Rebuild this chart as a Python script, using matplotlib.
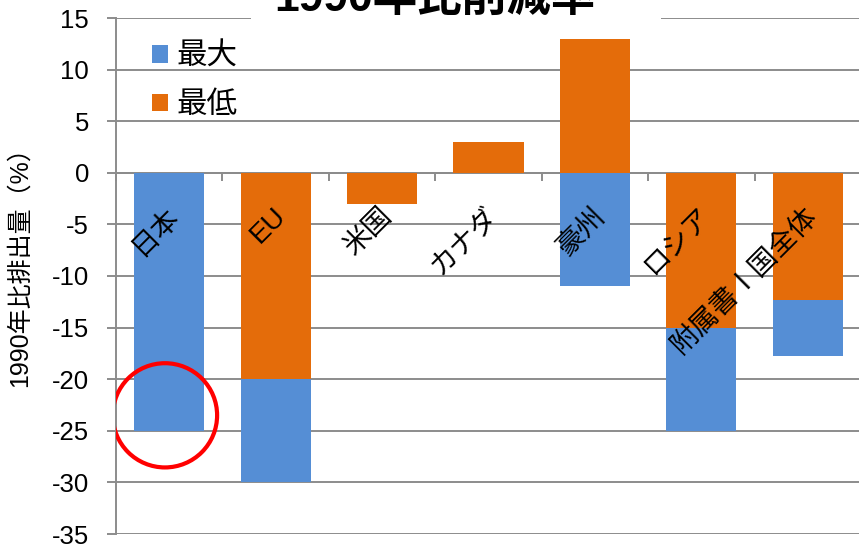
import numpy as np
import matplotlib
matplotlib.use('Agg')
import matplotlib.pyplot as plt
from matplotlib.patches import Ellipse, Rectangle

plt.rcParams['font.family'] = ['Liberation Sans', 'Noto Sans CJK JP']

# データ
countries = ['日本', 'EU', '米国', 'カナダ', '豪州', 'ロシア', '附属書Ⅰ国全体']
low = [0, -20, -3, 3, 13, -15, -12.3]      # 最低
extra = [-25, -10, 0, 0, -11, -10, -5.5]   # 最大 (最低からの上乗せ分)
yticks = [15, 10, 5, 0, -5, -10, -15, -20, -25, -30, -35]

blue = '#558ED5'
orange = '#E46C0A'
grid_c = '#8c8c8c'

fig = plt.figure(figsize=(8.59, 5.46), dpi=100)
ax = fig.add_axes([116/859, 1-534/546, 745/859, (534-18)/546])

x = np.arange(len(countries))
low = np.array(low)
extra = np.array(extra)
# 負の上乗せ分は最低値が負ならその下に、正なら0から下に積む
base = np.where(low < 0, low, 0)

ax.bar(x, low, width=0.66, color=orange, label='最低', zorder=3)
ax.bar(x, extra, bottom=base, width=0.66, color=blue, label='最大', zorder=3)

ax.set_xlim(-0.5, len(countries) - 0.5)
ax.set_ylim(-35, 15)
ax.set_yticks(yticks)
ax.set_yticklabels([str(v) for v in yticks], fontsize=18.5)
ax.yaxis.grid(True, color=grid_c, linewidth=1.4, zorder=0)
ax.tick_params(axis='y', direction='out', length=6.5, width=1.4, color=grid_c, pad=13)

# カテゴリ軸は0の位置
ax.spines['bottom'].set_position(('data', 0))
ax.spines['bottom'].set_color(grid_c)
ax.spines['bottom'].set_linewidth(1.4)
ax.spines['left'].set_color(grid_c)
ax.spines['left'].set_linewidth(1.4)
ax.spines['top'].set_visible(False)
ax.spines['right'].set_visible(False)
ax.set_xticks(np.arange(len(countries) + 1) - 0.5)
ax.set_xticklabels([])
ax.tick_params(axis='x', direction='out', length=6, width=1.4, color=grid_c)

for i, name in enumerate(countries):
    ax.text(i - 0.03, -2.9, name, rotation=45, rotation_mode='anchor',
            ha='right', va='top', fontsize=20, zorder=5)

ax.set_ylabel('1990年比排出量（%）', fontsize=18)
ax.yaxis.set_label_coords(-0.113, 0.53)

h, l = ax.get_legend_handles_labels()
ax.legend(h[::-1], l[::-1], loc='upper left', bbox_to_anchor=(0.012, 1.007),
          frameon=False, fontsize=22, handlelength=0.5, handleheight=0.5,
          handletextpad=0.3, labelspacing=0.6)

# 日本の棒の下端を囲む
ax.add_patch(Ellipse((-0.04, low[0] + extra[0] + 1.5), 0.98, 10.1,
                     fill=False, edgecolor='red', linewidth=3, zorder=6))

# タイトル (白地で目盛線を隠す)
fig.patches.append(Rectangle((251/859, 1-30/546), 410/859, 30/546,
                             transform=fig.transFigure, facecolor='white',
                             edgecolor='none', zorder=5))
fig.text(435/859, 1-11/546, '1990年比削減率', ha='center', va='baseline',
         fontsize=32, fontweight='bold', zorder=6)

fig.savefig('out.png', dpi=100)
